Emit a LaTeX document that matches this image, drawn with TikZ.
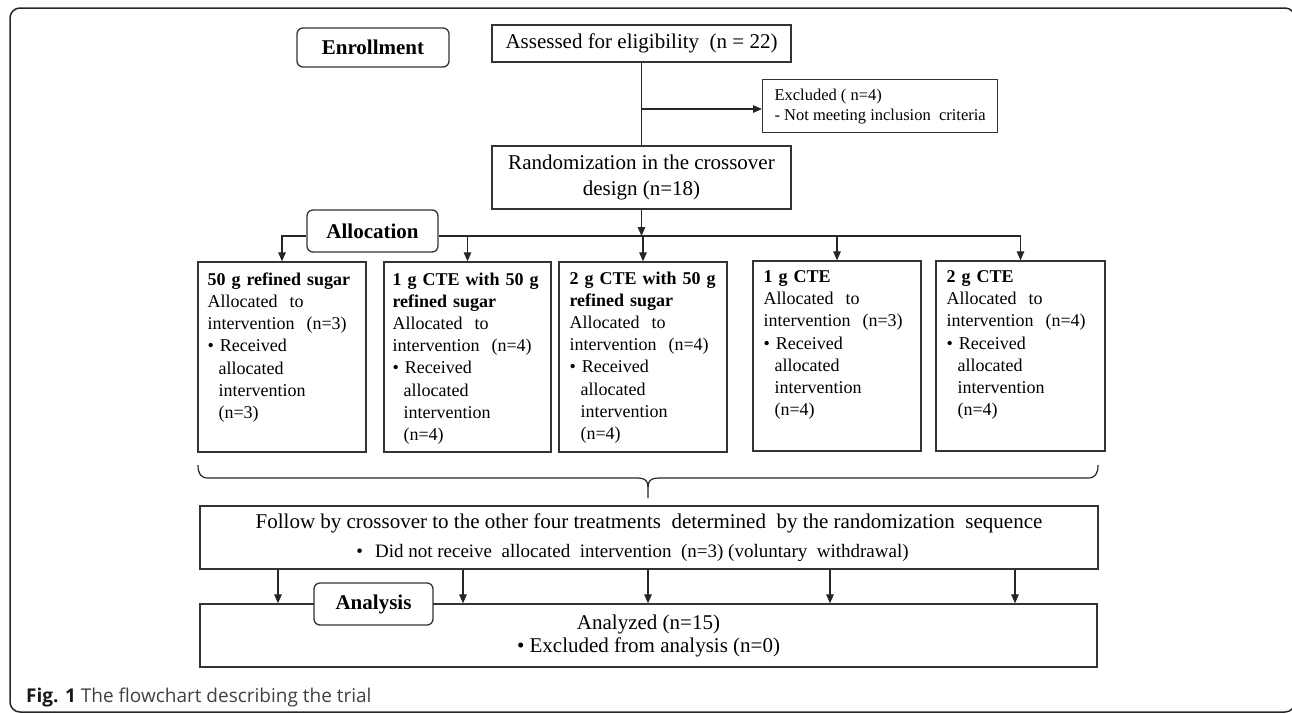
\documentclass[tikz,border=0pt]{standalone}
\usepackage{fontspec}
\setmainfont{Liberation Serif}
\newfontfamily\capfont{Open Sans}
\usetikzlibrary{arrows.meta,calc}
\begin{document}
\begin{tikzpicture}[x=1pt,y=-1pt,
  lbl/.style={draw=black!80, line width=1.3pt, fill=white, inner sep=0pt},
  phase/.style={lbl, rounded corners=6pt, font=\fontsize{21}{25}\selectfont\bfseries},
  btxt/.style={inner sep=0pt, anchor=north west, align=left, text width=165pt, font=\fontsize{18}{22.2}\selectfont},
  ln/.style={line width=1.2pt, draw=black!85},
  arr/.style={ln, -{Triangle[length=9pt,width=7.5pt]}}]
\useasboundingbox (0,0) rectangle (1292,713);
% outer frame
\draw[line width=1.5pt, black!85, rounded corners=10pt] (10,8) rectangle (1295,712);

% enrollment
\node[phase, minimum width=152pt, minimum height=39pt] (enr) at (373,47.5) {Enrollment};
\node[lbl, minimum width=299pt, minimum height=37pt, font=\fontsize{21}{25}\selectfont] (ass) at (641.5,43.5) {Assessed for eligibility\ \ (n = 22)};
\node[lbl, minimum width=235pt, minimum height=53pt, anchor=north west, align=left, font=\fontsize{16.5}{20}\selectfont] (exc) at (762,79) {Excluded ( n=4)\\- Not meeting inclusion\ \ criteria};
\node[lbl, minimum width=299pt, minimum height=63pt, align=center, font=\fontsize{21}{26}\selectfont] (rnd) at (641.5,177.5) {Randomization in the crossover\\design (n=18)};
\coordinate (br) at (641.5,109);
\draw[ln] (ass.south) -- (rnd.north);
\draw[arr] (br) -- (br -| exc.west);

% allocation
\node[phase, minimum width=131pt, minimum height=42pt] (alc) at (372.5,231) {Allocation};
\node[lbl, minimum width=168pt, minimum height=190pt] (b1) at (282,357) {};
\node[lbl, minimum width=167pt, minimum height=190pt] (b2) at (467.5,357) {};
\node[lbl, minimum width=168pt, minimum height=190pt] (b3) at (643,357) {};
\node[lbl, minimum width=168pt, minimum height=190pt] (b4) at (837,356) {};
\node[lbl, minimum width=169pt, minimum height=190pt] (b5) at (1020.5,356) {};

\node[btxt] (t1) at ($(b1.north west)+(10,11)$) {\textbf{50 g refined sugar}\\Allocated\ \ to\\intervention\ \ (n=3)\\\textbullet\ Received\\\hspace*{11pt}allocated\\\hspace*{11pt}intervention\\\hspace*{11pt}(n=3)};
\node[btxt] (t2) at ($(b2.north west)+(9,11)$) {\textbf{1 g CTE with 50 g}\\\textbf{refined sugar}\\Allocated\ \ to\\intervention\ \ (n=4)\\\textbullet\ Received\\\hspace*{11pt}allocated\\\hspace*{11pt}intervention\\\hspace*{11pt}(n=4)};
\node[btxt] (t3) at ($(b3.north west)+(11,10)$) {\textbf{2 g CTE with 50 g}\\\textbf{refined sugar}\\Allocated\ \ to\\intervention\ \ (n=4)\\\textbullet\ Received\\\hspace*{11pt}allocated\\\hspace*{11pt}intervention\\\hspace*{11pt}(n=4)};
\node[btxt] (t4) at ($(b4.north west)+(11,10)$) {\textbf{1 g CTE}\\Allocated\ \ to\\intervention\ \ (n=3)\\\textbullet\ Received\\\hspace*{11pt}allocated\\\hspace*{11pt}intervention\\\hspace*{11pt}(n=4)};
\node[btxt] (t5) at ($(b5.north west)+(11,10)$) {\textbf{2 g CTE}\\Allocated\ \ to\\intervention\ \ (n=4)\\\textbullet\ Received\\\hspace*{11pt}allocated\\\hspace*{11pt}intervention\\\hspace*{11pt}(n=4)};

\coordinate (al) at (643,236);
\draw[arr] (alc.west |- al) -| (b1.north);
\draw[arr] (alc.east |- al) -| (b5.north);
\draw[arr] (rnd.south) -- (rnd.south |- al);
\draw[arr] (al -| b2.north) -- (b2.north);
\draw[arr] (al -| b3.north) -- (b3.north);
\draw[arr] (al -| b4.north) -- (b4.north);

% brace
\draw[ln] (198,465) .. controls (198,474) and (201,478) .. (208,478) -- (638,478) .. controls (645,478) and (648,481) .. (648,487) -- (648,498);
\draw[ln] (1098,465) .. controls (1098,474) and (1095,478) .. (1088,478) -- (658,478) .. controls (651,478) and (648,481) .. (648,487);

% follow and analysis
\node[lbl, minimum width=898pt, minimum height=63pt, align=center, font=\fontsize{21}{29}\selectfont] (fol) at (649,537.5) {Follow by crossover to the other four treatments\ \ determined\ \ by the randomization\ \ sequence\\{\fontsize{19}{29}\selectfont\textbullet\hspace{12pt}Did not receive\ \ allocated\ \ intervention\ \ (n=3) (voluntary\ \ withdrawal)\hspace*{33pt}}};
\node[lbl, minimum width=897pt, minimum height=63pt, align=center, font=\fontsize{21}{23}\selectfont] (azd) at (648.5,635.5) {Analyzed (n=15)\\\textbullet\ Excluded from analysis (n=0)};
\node[phase, minimum width=119pt, minimum height=42pt] (anl) at (373.5,604) {Analysis};
\foreach \x/\n in {278/1,463/2,648/3,830/4,1015/5}
  \coordinate (f\n) at (\x,0);
\foreach \n in {1,...,5}
  \draw[arr] (f\n |- fol.south) -- (f\n |- azd.north);

% caption
\node[anchor=base west, inner sep=0pt, font=\capfont\fontsize{19}{22}\selectfont, text=black!75] (cap) at (26,702) {\textbf{\color{black!90}Fig. 1} The flowchart describing the trial};
\end{tikzpicture}
\end{document}
